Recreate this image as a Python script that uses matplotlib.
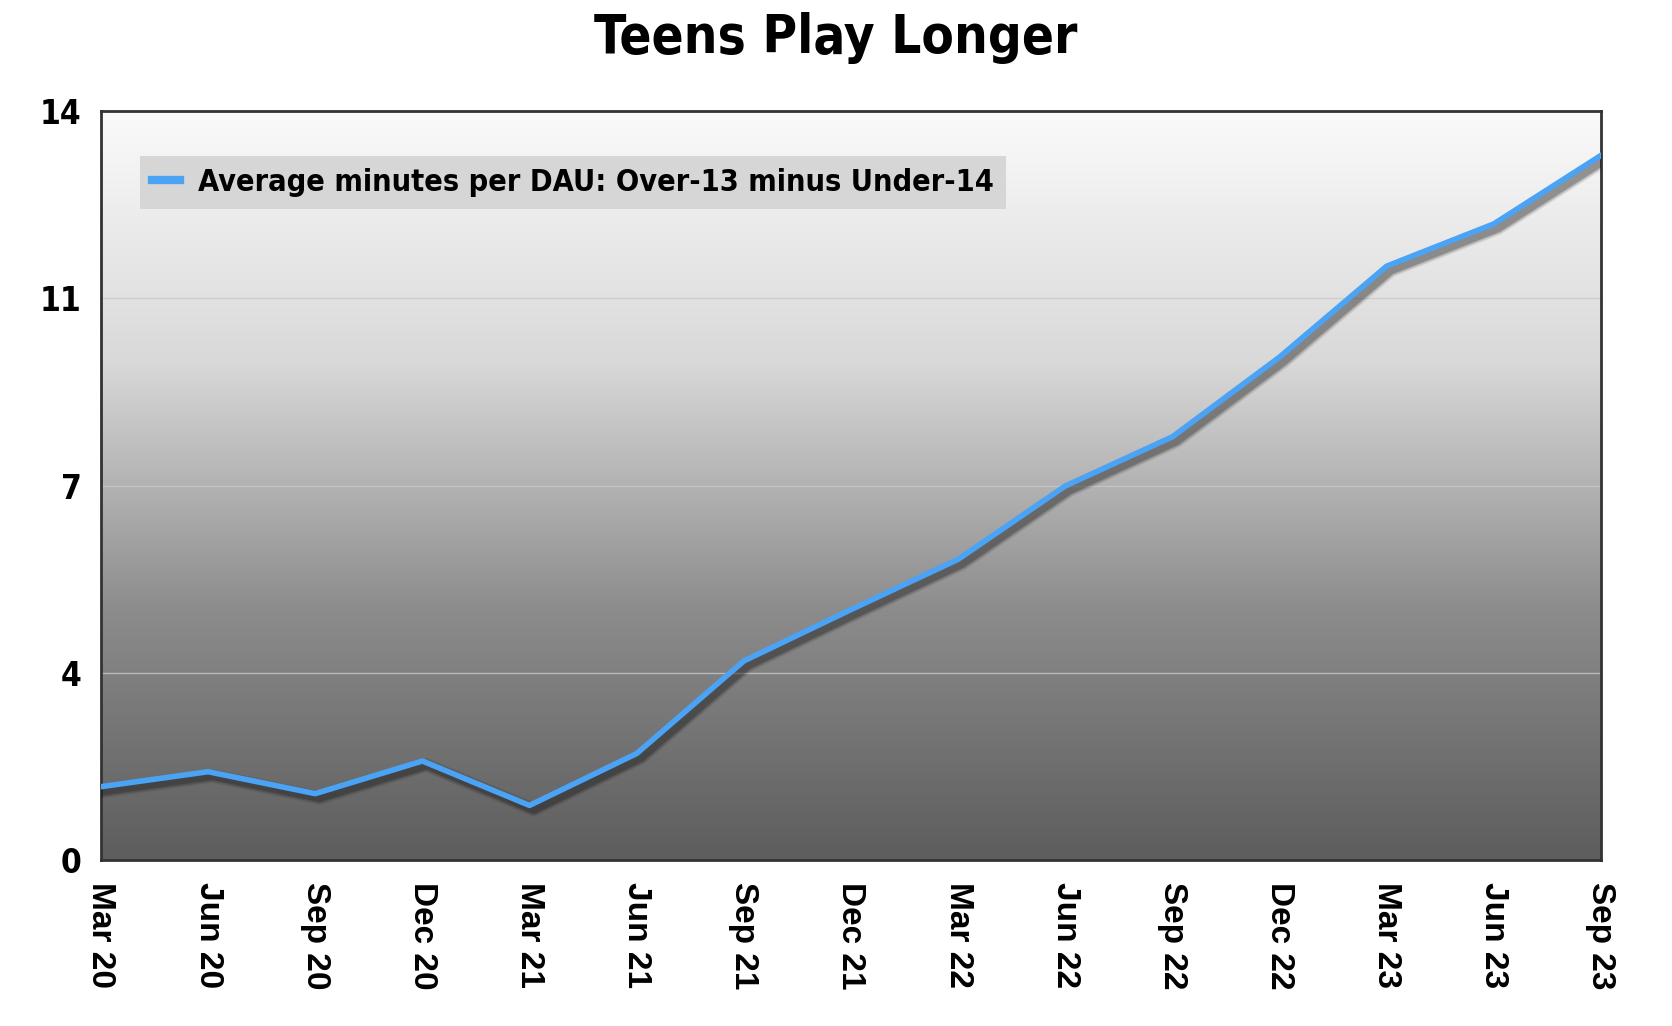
import numpy as np
import matplotlib
matplotlib.use('Agg')
import matplotlib.pyplot as plt
import matplotlib.patheffects as pe
from matplotlib.colors import LinearSegmentedColormap
from matplotlib.lines import Line2D

# data
quarters = ["Mar 20", "Jun 20", "Sep 20", "Dec 20", "Mar 21", "Jun 21", "Sep 21",
            "Dec 21", "Mar 22", "Jun 22", "Sep 22", "Dec 22", "Mar 23", "Jun 23", "Sep 23"]
minutes_diff = [1.37, 1.65, 1.24, 1.85, 1.02, 1.99, 3.72, 4.68, 5.62, 6.99, 7.91,
                9.40, 11.10, 11.89, 13.17]
y_ticks = [0, 3.5, 7, 10.5, 14]
y_tick_labels = ["0", "4", "7", "11", "14"]
series_label = "Average minutes per DAU: Over-13 minus Under-14"
title = "Teens Play Longer"

narrow = dict(family="DejaVu Sans", stretch="condensed", weight="bold")
wide = ["Liberation Sans", "DejaVu Sans"]
blue = "#4aa3f5"

fig = plt.figure(figsize=(16.72, 10.26), dpi=100)
ax = fig.add_axes([0.0604, 0.1618, 0.8971, 0.730])

x = np.arange(len(quarters))
ax.set_xlim(0, len(quarters) - 1)
ax.set_ylim(0, 14)

# gradient background
grad = np.linspace(0, 1, 256).reshape(-1, 1)
cmap = LinearSegmentedColormap.from_list("bg", ["#5d5d5d", "#8c8c8c", "#d9d9d9", "#fafafa"])
ax.imshow(grad, aspect="auto", cmap=cmap, origin="lower",
          extent=[0, len(quarters) - 1, 0, 14], zorder=0)

for yv in y_ticks[1:-1]:
    ax.axhline(yv, color="#c8c8c8", lw=1, alpha=0.8, zorder=1)

# soft shadow: a few wide faint layers under the line
shadow = [pe.SimpleLineShadow(offset=(3, -3), alpha=a, shadow_color="#111111", linewidth=w)
          for w, a in [(10, 0.1), (8, 0.15), (6, 0.25)]]
ax.plot(x, minutes_diff, color=blue, lw=4, zorder=3,
        path_effects=shadow + [pe.Normal()])

ax.set_yticks(y_ticks)
ax.set_yticklabels(y_tick_labels, fontsize=24, **narrow)
ax.set_xticks(x)
ax.set_xticklabels(quarters, rotation=270, family=wide, weight="bold", fontsize=24,
                   va="top", ha="center")
ax.tick_params(length=0, pad=14)
ax.tick_params(axis="x", pad=16)

for s in ax.spines.values():
    s.set_color("#333333")
    s.set_linewidth(2)

handle = Line2D([], [], color=blue, lw=6)
leg = ax.legend([handle], [series_label], loc="upper left",
                bbox_to_anchor=(0.026, 0.94), borderaxespad=0, frameon=True,
                fancybox=False, handlelength=0.9, handletextpad=0.6,
                prop=dict(size=22, **narrow), borderpad=0.4)
leg.get_frame().set_facecolor("#d6d6d6")
leg.get_frame().set_edgecolor("none")
leg.get_frame().set_alpha(1)

fig.text(0.5, 0.963, title, ha="center", va="center", fontsize=38, **narrow)

fig.savefig("out.png", dpi=100)
